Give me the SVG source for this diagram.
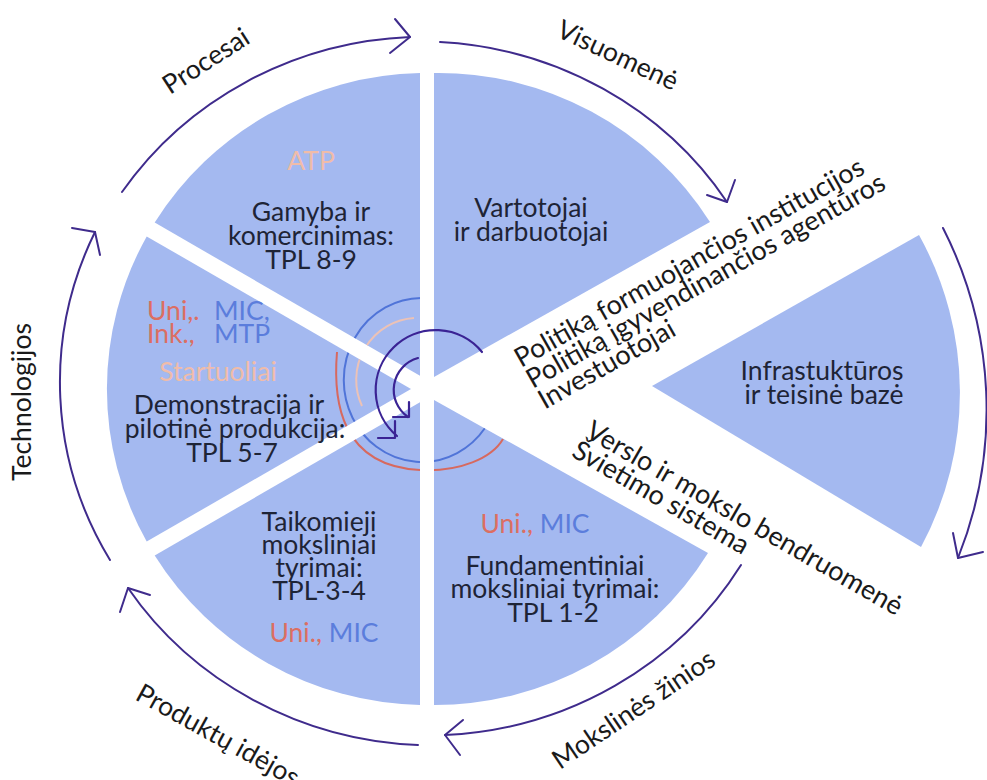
<svg xmlns="http://www.w3.org/2000/svg" width="987" height="780" viewBox="0 0 987 780">
  <defs>
    <style>
      .slice{fill:#a4b9f0}
      .t{font-family:Lato,"Open Sans","DejaVu Sans",sans-serif;font-size:26.5px;fill:#1e2436}
      .c{text-anchor:middle}
      .uni{fill:#dc6e62}
      .mic{fill:#5b7ddc}
      .pch{fill:#f0bca9}
      .lbl{font-family:Lato,"Open Sans","DejaVu Sans",sans-serif;font-size:26.5px;fill:#1a1a1a}
      .gap{font-size:27px}
      .ring{fill:none;stroke:#3f2b8c;stroke-width:2;stroke-linecap:round;stroke-linejoin:round}
      .loop{fill:none;stroke:#3a2394;stroke-width:2.2;stroke-linecap:round;stroke-linejoin:round}
      .orbit{fill:none;stroke-width:2}
    </style>
    <!-- slice outlines shared by the fills and the clip for the inner rings -->
    <path id="p-ul" d="M420 375.7 L420 73.1 A320 316 0 0 0 154.7 222.6 Z"/>
    <path id="p-l" d="M411 389 L146.7 236.4 A320 316 0 0 0 146.7 541.6 Z"/>
    <path id="p-ll" d="M420 402.3 L154.7 555.4 A320 316 0 0 0 420 704.9 Z"/>
    <path id="p-ur" d="M434 377 L710 222 A322 322 0 0 0 434 73 Z"/>
    <path id="p-lr" d="M434 400 L708 553 A322 322 0 0 1 434 705 Z"/>
    <clipPath id="pie-clip">
      <use href="#p-ul"/><use href="#p-l"/><use href="#p-ll"/><use href="#p-ur"/><use href="#p-lr"/>
    </clipPath>
  </defs>

  <!-- pie slices -->
  <g id="gamyba">
    <use href="#p-ul" class="slice"/>
  </g>
  <g id="demonstracija">
    <use href="#p-l" class="slice"/>
  </g>
  <g id="taikomieji">
    <use href="#p-ll" class="slice"/>
  </g>
  <g id="vartotojai">
    <use href="#p-ur" class="slice"/>
  </g>
  <g id="fundamentiniai">
    <use href="#p-lr" class="slice"/>
  </g>
  <g id="infrastruktura">
    <path class="slice" d="M652 386 L919 235 A325 325 0 0 1 921 547 Z"/>
    <text class="t c" x="822" y="380">Infrastuktūros</text>
    <text class="t c" x="824" y="404">ir teisinė bazė</text>
  </g>

  <!-- concentric rings round the hub -->
  <g id="hub-rings" clip-path="url(#pie-clip)">
    <path class="orbit" stroke="#5074d8" d="M421 298 A78 82 0 1 0 485 428"/>
    <path class="orbit" stroke="#d7695f" d="M337 352 C333 400 340 466 420 470 C460 472 492 458 503 439"/>
    <path class="orbit" stroke="#ecc2b6" d="M414 318 A62 62 0 0 0 362 406"/>
  </g>

  <!-- slice labels -->
  <g id="gamyba-text">
    <text class="t c pch" x="311" y="170">ATP</text>
    <text class="t c" x="311" y="221">Gamyba ir</text>
    <text class="t c" x="311" y="245">komercinimas:</text>
    <text class="t c" x="311" y="269">TPL 8-9</text>
  </g>
  <g id="vartotojai-text">
    <text class="t c" x="531" y="217">Vartotojai</text>
    <text class="t c" x="531" y="241">ir darbuotojai</text>
  </g>
  <g id="demonstracija-text">
    <text class="t uni" x="147" y="320">Uni,.</text>
    <text class="t mic" x="214" y="320">MIC,</text>
    <text class="t uni" x="147" y="343">Ink.,</text>
    <text class="t mic" x="214" y="343">MTP</text>
    <text class="t c pch" x="218" y="381">Startuoliai</text>
    <text class="t c" x="229" y="414">Demonstracija ir</text>
    <text class="t c" x="235" y="438">pilotinė produkcija:</text>
    <text class="t c" x="232" y="462">TPL 5-7</text>
  </g>
  <g id="taikomieji-text">
    <text class="t c" x="319" y="531">Taikomieji</text>
    <text class="t c" x="319" y="554">moksliniai</text>
    <text class="t c" x="319" y="577">tyrimai:</text>
    <text class="t c" x="319" y="600">TPL-3-4</text>
    <text class="t c" x="324" y="642"><tspan class="uni">Uni.,</tspan><tspan class="mic"> MIC</tspan></text>
  </g>
  <g id="fundamentiniai-text">
    <text class="t c" x="535" y="533"><tspan class="uni">Uni.,</tspan><tspan class="mic"> MIC</tspan></text>
    <text class="t c" x="555" y="575">Fundamentiniai</text>
    <text class="t c" x="555" y="598">moksliniai tyrimai:</text>
    <text class="t c" x="553" y="622">TPL 1-2</text>
  </g>

  <!-- actors in the gaps -->
  <g id="politika" transform="translate(521 368) rotate(-29.5)">
    <text class="lbl gap" x="0" y="0">Politiką formuojančios institucijos</text>
    <text class="lbl gap" x="0" y="24">Politiką įgyvendinančios agentūros</text>
    <text class="lbl gap" x="0" y="48">Investuotojai</text>
  </g>
  <g id="bendruomene" transform="translate(584 436) rotate(30)">
    <text class="lbl gap" x="0" y="0">Verslo ir mokslo bendruomenė</text>
    <text class="lbl gap" x="-2" y="24">Švietimo sistema</text>
  </g>

  <!-- outer cycle connectors -->
  <g id="connectors">
    <path class="ring" d="M110 560 A366 352 0 0 1 95 232"/>
    <path class="ring" d="M72 228 L95 232 L100 255"/>
    <path class="ring" d="M122 192 A366 352 0 0 1 410 37"/>
    <path class="ring" d="M395 19 L410 37 L390 53"/>
    <path class="ring" d="M440 42 A366 352 0 0 1 727 202"/>
    <path class="ring" d="M735 180 L727 202 L707 195"/>
    <path class="ring" d="M943 228 A400 400 0 0 1 958 558"/>
    <path class="ring" d="M953 533 L958 558 L983 552"/>
    <path class="ring" d="M741 565 A366 352 0 0 1 445 735"/>
    <path class="ring" d="M463 720 L445 735 L460 755"/>
    <path class="ring" d="M418 745 A366 352 0 0 1 128 588"/>
    <path class="ring" d="M150 595 L128 588 L120 612"/>
    <!-- hub loops -->
    <path class="loop" d="M482 352 A60 60 0 1 0 397 436"/>
    <path class="loop" d="M378 438 L395 438 L395 421"/>
    <path class="loop" d="M418 358 A33 33 0 0 0 408 417"/>
    <path class="loop" d="M393 417 L409 417 L409 402"/>
  </g>

  <!-- cycle labels -->
  <g id="cycle-labels">
    <text class="lbl" transform="translate(170 95) rotate(-33)">Procesai</text>
    <text class="lbl" transform="translate(555 36) rotate(25)">Visuomenė</text>
    <text class="lbl c" transform="translate(31 402) rotate(-90)">Technologijos</text>
    <text class="lbl" transform="translate(134 699) rotate(29)">Produktų idėjos</text>
    <text class="lbl" transform="translate(560 770) rotate(-34)">Mokslinės žinios</text>
  </g>
</svg>
